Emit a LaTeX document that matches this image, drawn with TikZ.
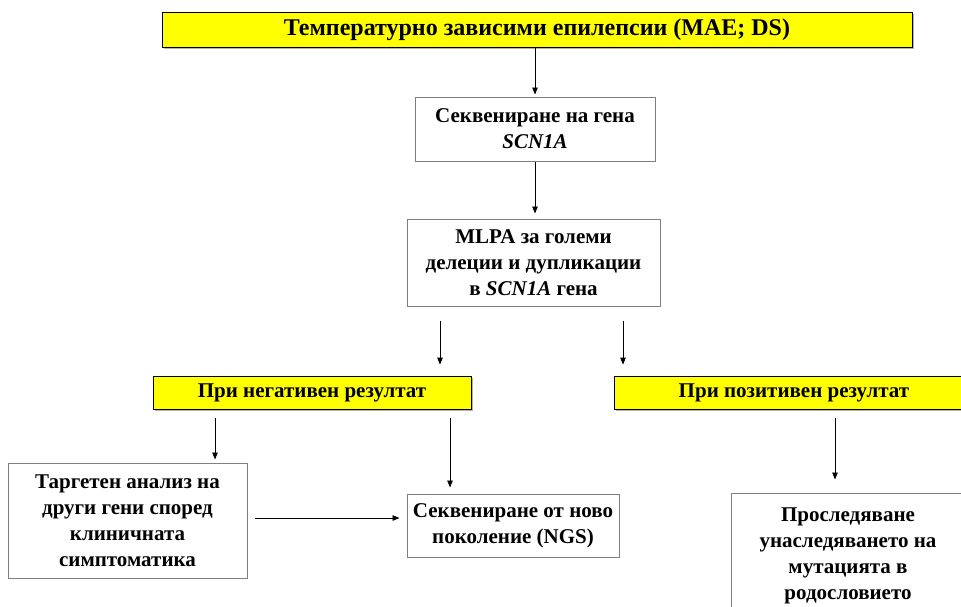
\documentclass[tikz,border=0pt]{standalone}
\usepackage{fontspec}
\setmainfont{Liberation Serif}
\usetikzlibrary{arrows.meta,shadows}
\definecolor{resyellow}{HTML}{FFFF00}
\definecolor{boxgray}{HTML}{7F7F7F}

\begin{document}
\begin{tikzpicture}[x=1pt,y=-1pt,font=\fontsize{21}{26}\selectfont\bfseries,
   stepbox/.style={draw=boxgray,line width=1pt,fill=white,align=center,inner sep=0pt},
   resbox/.style={draw=black,line width=0.8pt,fill=resyellow,inner sep=0pt,
     drop shadow={shadow xshift=1.5pt,shadow yshift=-1.5pt,fill=gray!60,opacity=1}},
   arr/.style={-{Triangle[length=7pt,width=5.5pt]},line width=0.8pt}]
  \useasboundingbox (0,0) rectangle (961,606);
  \clip (0,0) rectangle (961,606);
  % pixel grid, y runs downwards

  % ---- top : epilepsy type ----
  \node[resbox,minimum width=750pt,minimum height=35pt,font=\fontsize{24}{28}\selectfont\bfseries]
     (top) at (537,29.5) {Температурно зависими епилепсии (MAE; DS)};

  % ---- sequencing + MLPA ----
  \node[stepbox,minimum width=240pt,minimum height=64pt] (seq) at (535,129)
     {Секвениране на гена\\\textit{SCN1A}};
  \node[stepbox,minimum width=253pt,minimum height=87pt] (mlpa) at (533.5,262.5)
     {MLPA за големи\\делеции и дупликации\\в \textit{SCN1A} гена};

  % ---- results ----
  \node[resbox,minimum width=318pt,minimum height=33pt] (neg) at (312,392.5)
     {При негативен резултат};
  \node[resbox,minimum width=360pt,minimum height=33pt] (pos) at (794,392.5)
     {При позитивен резултат};

  % ---- follow-up tests ----
  \node[stepbox,minimum width=239pt,minimum height=115pt] (targ) at (127.5,520.5)
     {Таргетен анализ на\\други гени според\\клиничната\\симптоматика};
  \node[stepbox,minimum width=212pt,minimum height=63pt] (ngs) at (513,525.5)
     {Секвениране от ново\\поколение (NGS)};
  \node[stepbox,minimum width=234pt,minimum height=125pt] (ped) at (848,555.5)
     {Проследяване\\унаследяването на\\мутацията в\\родословието};

  % ---- arrows ----
  \draw[arr,shorten >=2pt] (top.south -| seq.north) -- (seq.north);
  \draw[arr,shorten >=5pt] (seq.south) -- (seq.south |- mlpa.north);
  \draw[arr,shorten <=14pt,shorten >=11pt] ([xshift=-93.5pt]mlpa.south) -- ([xshift=-93.5pt]mlpa.south |- neg.north);
  \draw[arr,shorten <=14pt,shorten >=11pt] ([xshift=89.5pt]mlpa.south) -- ([xshift=89.5pt]mlpa.south |- pos.north);
  \draw[arr,shorten <=9pt,shorten >=3pt] ([xshift=-97pt]neg.south) -- ([xshift=-97pt]neg.south |- targ.north);
  \draw[arr,shorten <=9pt,shorten >=6pt] ([xshift=138pt]neg.south) -- ([xshift=138pt]neg.south |- ngs.north);
  \draw[arr,shorten <=9pt,shorten >=13pt] ([xshift=41pt]pos.south) -- ([xshift=41pt]pos.south |- ped.north);
  \draw[arr,shorten <=7pt,shorten >=7pt] ([yshift=2.5pt]targ.east) -- ([yshift=2.5pt]targ.east -| ngs.west);
\end{tikzpicture}
\end{document}
